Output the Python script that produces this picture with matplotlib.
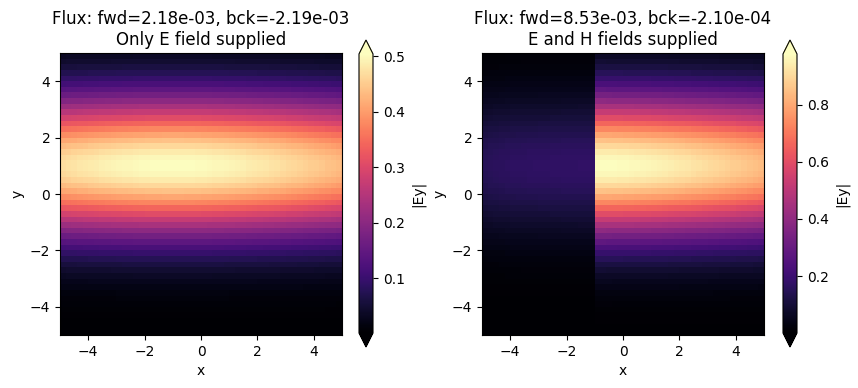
import matplotlib
matplotlib.use("Agg")
import matplotlib.pyplot as plt
import numpy as np

# grid edges (cells of 0.2 from -5 to 5)
x_edges = np.linspace(-5, 5, 51)
y_edges = np.linspace(-5, 5, 51)

# transverse profile of |Ey| along y (cell centres -4.9 ... 4.9), normalised
y_profile = [0.0025, 0.0037, 0.0054, 0.0079, 0.0113, 0.016, 0.022, 0.030, 0.041, 0.055,
             0.073, 0.094, 0.121, 0.153, 0.191, 0.235, 0.285, 0.340, 0.402, 0.468,
             0.537, 0.608, 0.678, 0.747, 0.812, 0.870, 0.919, 0.958, 0.985, 0.998,
             0.998, 0.985, 0.958, 0.919, 0.870, 0.812, 0.747, 0.678, 0.608, 0.537,
             0.468, 0.402, 0.340, 0.285, 0.235, 0.191, 0.153, 0.121, 0.094, 0.073]

# column amplitude along x, left panel (only E supplied)
amp_left = [0.471, 0.474, 0.477, 0.480, 0.482, 0.485, 0.487, 0.490, 0.492, 0.494,
            0.496, 0.498, 0.499, 0.501, 0.502, 0.503, 0.504, 0.504, 0.505, 0.505,
            0.505, 0.505, 0.504, 0.504, 0.503, 0.502, 0.501, 0.499, 0.498, 0.496,
            0.494, 0.492, 0.490, 0.487, 0.485, 0.482, 0.480, 0.477, 0.474, 0.471,
            0.467, 0.464, 0.461, 0.457, 0.453, 0.450, 0.446, 0.442, 0.439, 0.435]

# column amplitude along x, right panel (E and H supplied)
amp_right = [0.150, 0.155, 0.158, 0.161, 0.163, 0.165, 0.166, 0.167, 0.168, 0.169,
             0.170, 0.170, 0.171, 0.171, 0.172, 0.172, 0.172, 0.173, 0.173, 0.173,
             0.980, 0.980, 0.979, 0.978, 0.976, 0.974, 0.972, 0.969, 0.966, 0.962,
             0.959, 0.956, 0.951, 0.946, 0.941, 0.936, 0.931, 0.925, 0.919, 0.913,
             0.907, 0.901, 0.894, 0.887, 0.880, 0.873, 0.866, 0.858, 0.852, 0.844]

titles = ["Flux: fwd=2.18e-03, bck=-2.19e-03\nOnly E field supplied",
          "Flux: fwd=8.53e-03, bck=-2.10e-04\nE and H fields supplied"]

W, H = 858, 388
fig = plt.figure(figsize=(W / 100, H / 100), dpi=100)

ax_pos = [[60 / W, 53 / H, 282 / W, 282 / H], [482 / W, 53 / H, 282 / W, 282 / H]]
cax_pos = [[359 / W, 41 / H, 14 / W, 307 / H], [783 / W, 41 / H, 14 / W, 307 / H]]

for i, amp in enumerate([amp_left, amp_right]):
    field = np.outer(y_profile, amp)
    ax = fig.add_axes(ax_pos[i])
    mesh = ax.pcolormesh(x_edges, y_edges, field, cmap="magma")
    ax.set_xlabel("x")
    ax.set_ylabel("y")
    ax.set_title(titles[i])
    ax.set_xticks([-4, -2, 0, 2, 4])
    ax.set_yticks([-4, -2, 0, 2, 4])
    cax = fig.add_axes(cax_pos[i])
    fig.colorbar(mesh, cax=cax, extend="both", label="|Ey|")

fig.savefig("out.png", dpi=100)
